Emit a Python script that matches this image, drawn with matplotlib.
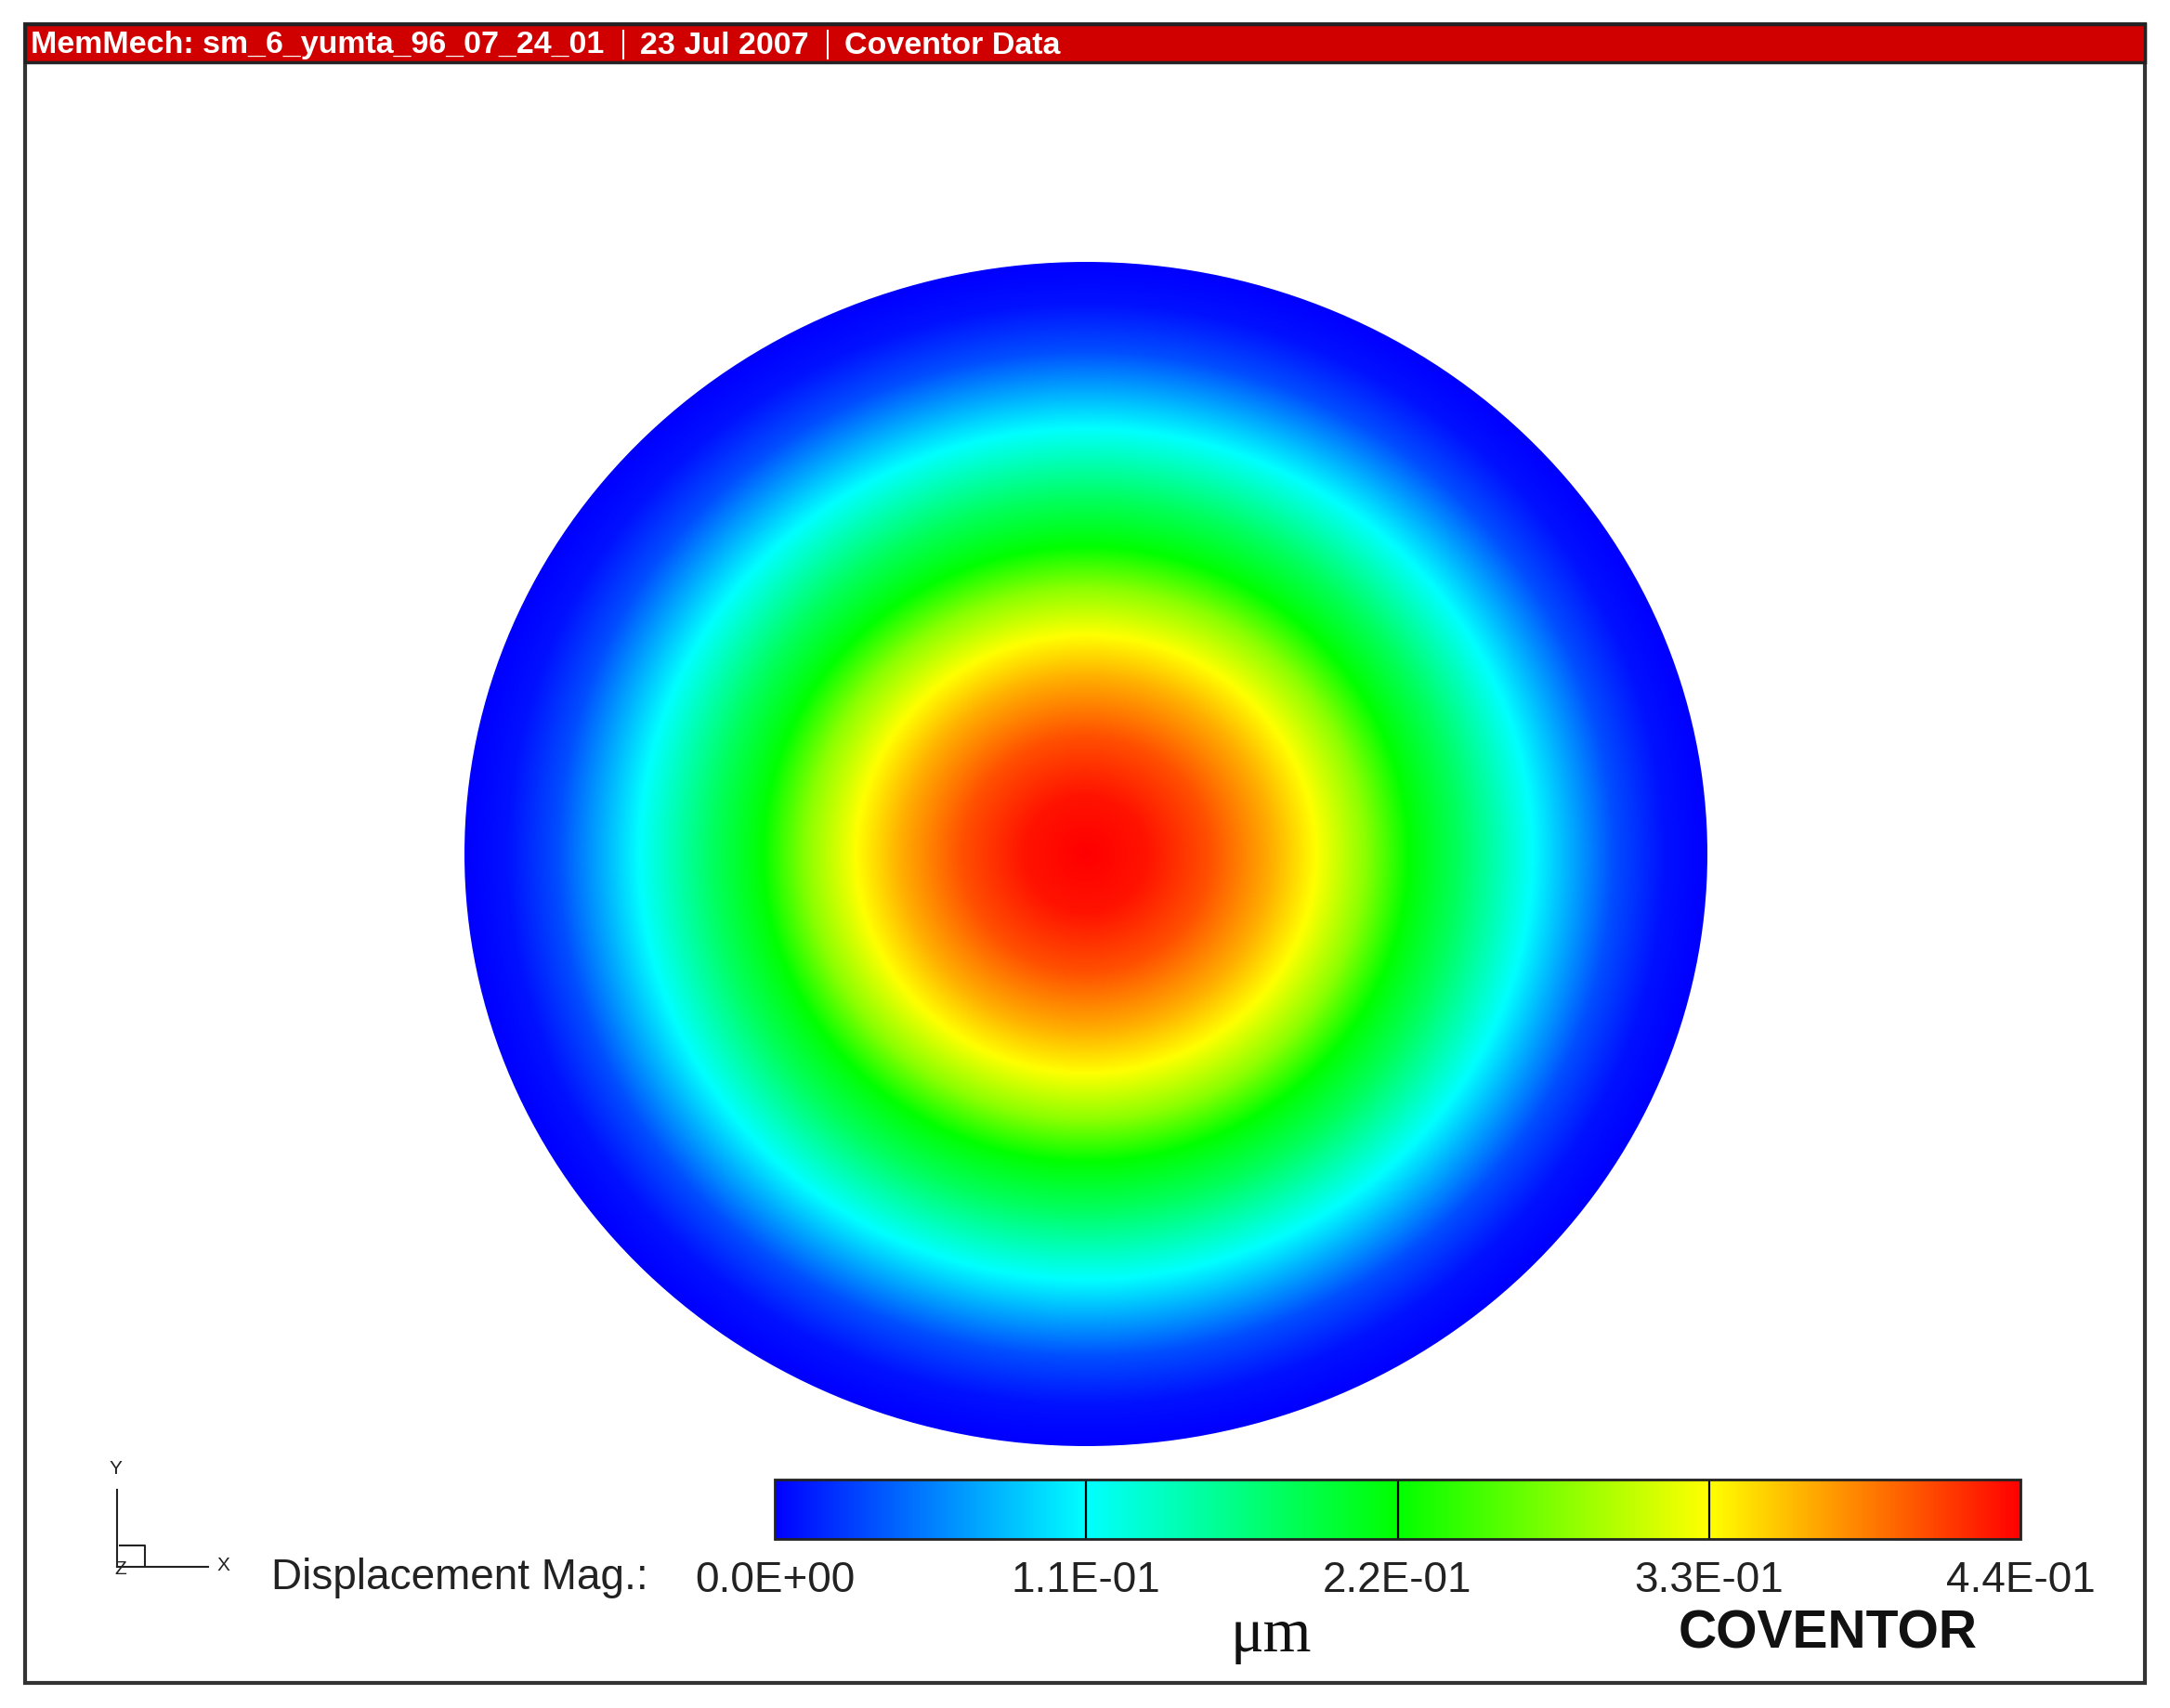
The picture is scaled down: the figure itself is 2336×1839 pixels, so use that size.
import numpy as np
import matplotlib.pyplot as plt
from matplotlib.colors import LinearSegmentedColormap, Normalize
from matplotlib.patches import Rectangle, Circle
from matplotlib.cm import ScalarMappable

# radial displacement profile (r / plate radius -> um)
r_frac = [0.0, 0.1, 0.2, 0.3, 0.37, 0.45, 0.52, 0.6, 0.72, 0.85, 0.93, 1.0]
disp_um = [0.44, 0.431, 0.405, 0.364, 0.33, 0.28, 0.22, 0.18, 0.11, 0.034, 0.008, 0.0]

# colour legend
tick_vals = [0.0, 0.11, 0.22, 0.33, 0.44]
tick_labels = ['0.0E+00', '1.1E-01', '2.2E-01', '3.3E-01', '4.4E-01']
legend_colors = ['#0000ff', '#00ffff', '#00ff00', '#ffff00', '#ff0000']

title_parts = ['MemMech: sm_6_yumta_96_07_24_01', '23 Jul 2007', 'Coventor Data']

W, H = 2336, 1840
fig = plt.figure(figsize=(W / 100, H / 100), dpi=100)

def fbox(x0, y0, x1, y1):
    # pixel box (top-left origin) -> figure fraction rect
    return [x0 / W, 1 - y1 / H, (x1 - x0) / W, (y1 - y0) / H]

cmap = LinearSegmentedColormap.from_list('cov', legend_colors, N=512)
norm = Normalize(vmin=tick_vals[0], vmax=tick_vals[-1])

### page overlay: frame, title bar, triad
ov = fig.add_axes([0, 0, 1, 1])
ov.set_xlim(0, W)
ov.set_ylim(H, 0)
ov.axis('off')
ov.add_patch(Rectangle((27, 27), 2282, 1786, fill=False, ec='#333333', lw=3))
ov.add_patch(Rectangle((27, 27), 2282, 41, fc='#d00000', ec='#222222', lw=2.5))

tfont = dict(family=['Liberation Sans', 'DejaVu Sans'], weight='bold', size=24.5,
             color='white', va='center', ha='left')
ov.text(33, 49, title_parts[0], **tfont)
ov.plot([671, 671], [34, 64], color='white', lw=1.5)
ov.text(689, 49, title_parts[1], **tfont)
ov.plot([891, 891], [34, 64], color='white', lw=1.5)
ov.text(909, 49, title_parts[2], **tfont)

# axis triad
ov.plot([126, 126], [1605, 1688], color='#222222', lw=1.5)
ov.plot([126, 224], [1688, 1688], color='#222222', lw=1.5)
ov.plot([129, 156, 156], [1665, 1665, 1688], color='#222222', lw=1.5)
sfont = dict(family=['Liberation Sans', 'DejaVu Sans'], size=15, color='#222222',
             ha='center', va='center')
ov.text(124, 1582, 'Y', **sfont)
ov.text(240, 1686, 'X', **sfont)
ov.text(130, 1690, 'Z', **sfont)

### plate contour
ax = fig.add_axes(fbox(500, 283, 1838, 1558))
xs = np.linspace(-1, 1, 900)
X, Y = np.meshgrid(xs, xs)
Z = np.interp(np.hypot(X, Y), r_frac, disp_um)
im = ax.imshow(Z, extent=(-1, 1, -1, 1), cmap=cmap, norm=norm,
               interpolation='bilinear', aspect='auto', origin='lower')
clip = Circle((0, 0), 1.0, transform=ax.transData)
im.set_clip_path(clip)
ax.set_xlim(-1, 1)
ax.set_ylim(-1, 1)
ax.axis('off')

### colour legend
cax = fig.add_axes(fbox(834, 1594, 2175, 1658))
cb = fig.colorbar(ScalarMappable(norm=norm, cmap=cmap), cax=cax, orientation='horizontal')
cb.set_ticks(tick_vals, labels=tick_labels)
cax.tick_params(length=0, pad=16, labelsize=33, labelcolor='#222222')
for lab in cax.get_xticklabels():
    lab.set_family(['Liberation Sans', 'DejaVu Sans'])
for v in tick_vals[1:-1]:
    cax.axvline(v, color='black', lw=1.6)
cb.outline.set_linewidth(2)
cb.outline.set_edgecolor('#222222')

fig.text(292 / W, 1 - 1699 / H, 'Displacement Mag.:', family=['Liberation Sans', 'DejaVu Sans'],
         size=33, color='#222222', ha='left', va='center')
fig.text(1368 / W, 1 - 1762 / H, 'μm', family=['Liberation Serif', 'DejaVu Serif'],
         size=48, color='#111111', ha='center', va='center')
fig.text(1968 / W, 1 - 1760 / H, 'COVENTOR', family=['Liberation Sans', 'DejaVu Sans'],
         weight='bold', size=41, color='#111111', ha='center', va='center')

fig.savefig('out.png', dpi=100)
